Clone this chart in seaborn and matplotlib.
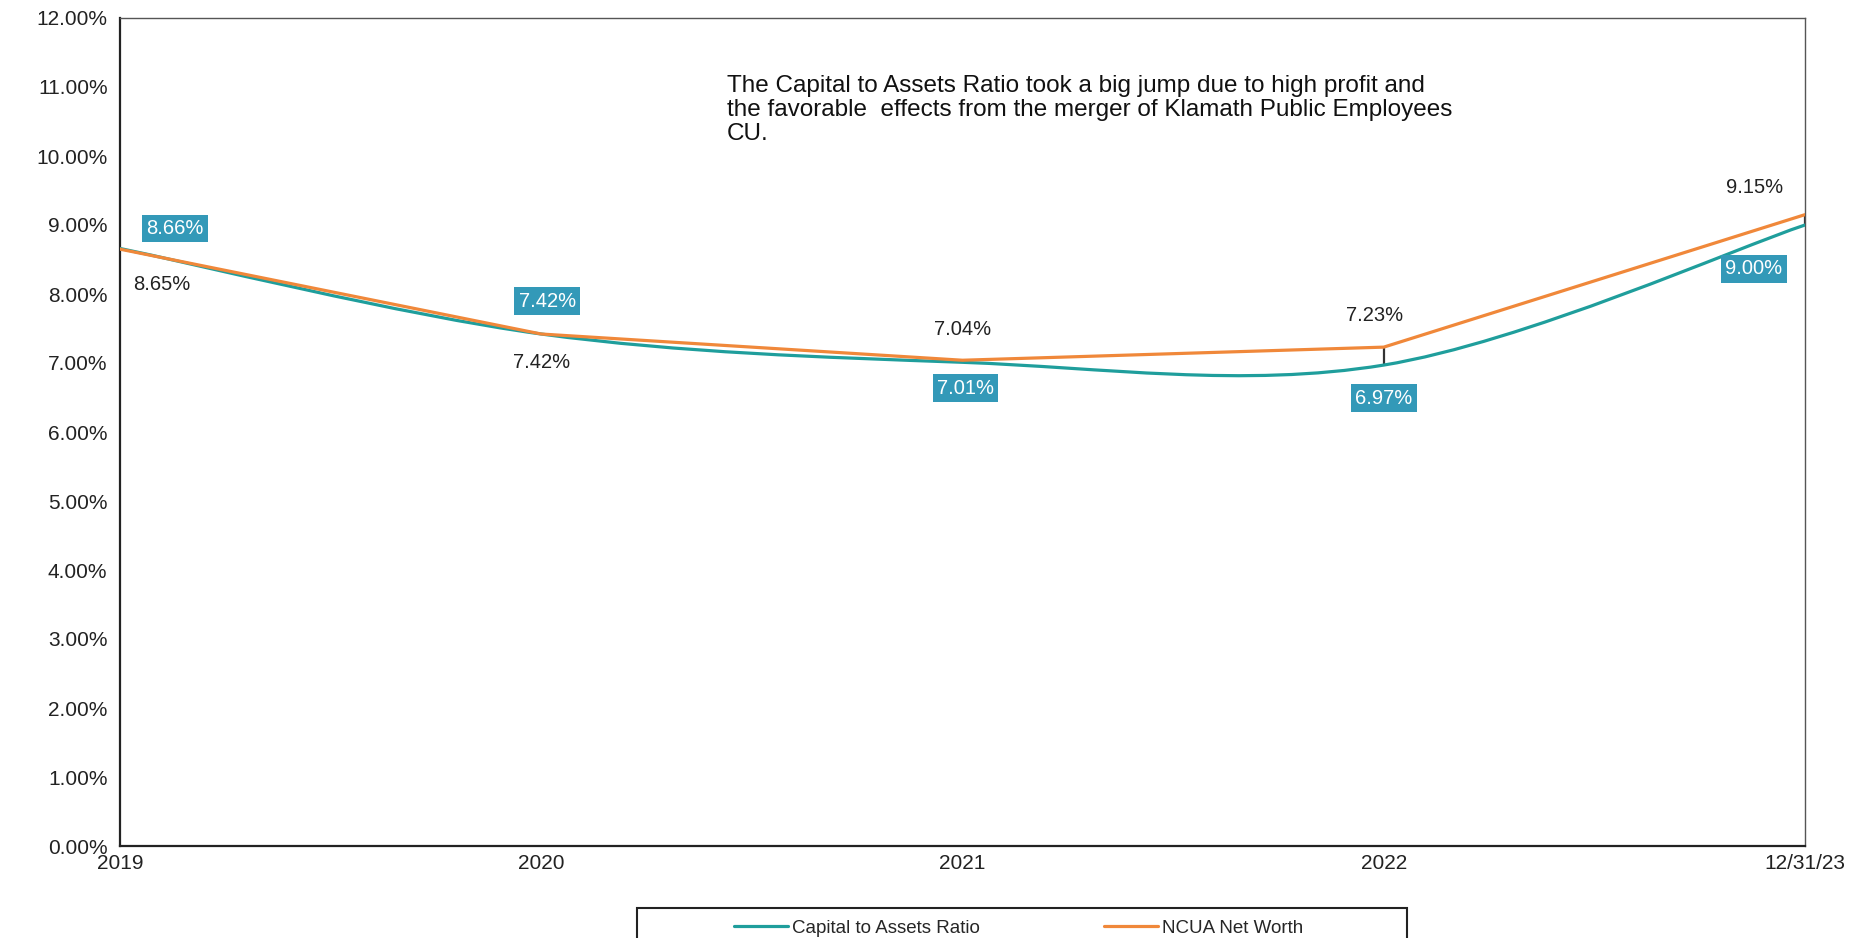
import matplotlib
matplotlib.use("Agg")
import matplotlib.pyplot as plt
import seaborn as sns
import numpy as np
import pandas as pd
from matplotlib.path import Path
from matplotlib.patches import PathPatch, Rectangle
from matplotlib.lines import Line2D
from matplotlib.ticker import FuncFormatter, MultipleLocator

# ---- data ----
periods = ["2019", "2020", "2021", "2022", "12/31/23"]
capital_to_assets = [8.66, 7.42, 7.01, 6.97, 9.00]
ncua_net_worth = [8.65, 7.42, 7.04, 7.23, 9.15]
series_names = ["Capital to Assets Ratio", "NCUA Net Worth"]
note = ("The Capital to Assets Ratio took a big jump due to high profit and\n"
        "the favorable  effects from the merger of Klamath Public Employees\n"
        "CU.")

TEAL = "#1f9e9c"
BOX = "#3399b8"
ORANGE = "#f0883a"

sns.set_theme(style="white")
plt.rcParams["font.family"] = ["Liberation Sans", "DejaVu Sans"]

fig = plt.figure(figsize=(18.57, 9.38), dpi=100)
ax = fig.add_axes([120 / 1857, (938 - 846) / 938, 1685 / 1857, 828 / 938])

x = np.arange(len(periods))
df = pd.DataFrame({"x": x, "y": ncua_net_worth})
# NCUA Net Worth: straight segments drawn by seaborn
sns.lineplot(data=df, x="x", y="y", color=ORANGE, linewidth=2.3,
             legend=False, ax=ax, zorder=4)


def smooth_path(xs, ys):
    xs = np.asarray(xs, float)
    ys = np.asarray(ys, float)
    n = len(xs)
    verts = [(xs[0], ys[0])]
    codes = [Path.MOVETO]
    for i in range(n - 1):
        i0 = max(i - 1, 0)
        i3 = min(i + 2, n - 1)
        c1 = (xs[i] + (xs[i + 1] - xs[i0]) / 6, ys[i] + (ys[i + 1] - ys[i0]) / 6)
        c2 = (xs[i + 1] - (xs[i3] - xs[i]) / 6, ys[i + 1] - (ys[i3] - ys[i]) / 6)
        verts += [c1, c2, (xs[i + 1], ys[i + 1])]
        codes += [Path.CURVE4] * 3
    return Path(verts, codes)


# high-low lines
ax.vlines(x, np.minimum(capital_to_assets, ncua_net_worth),
          np.maximum(capital_to_assets, ncua_net_worth),
          color="#333333", lw=1.6, zorder=2)

# Capital to Assets Ratio: smoothed line
p = PathPatch(smooth_path(x, capital_to_assets), facecolor="none", edgecolor=TEAL,
              lw=2.3, capstyle="round", joinstyle="round", zorder=3)
ax.add_patch(p)

ax.set_xlim(0, len(periods) - 1)
ax.set_ylim(0, 12)
ax.yaxis.set_major_locator(MultipleLocator(1))
ax.yaxis.set_major_formatter(FuncFormatter(lambda v, _: f"{v:.2f}%"))
ax.set_xticks(x)
ax.set_xticklabels(periods)
ax.set_xlabel("")
ax.set_ylabel("")
ax.tick_params(axis="both", direction="inout", length=10, width=1.2,
               color="#222222", labelsize=15, labelcolor="#222222")
ax.tick_params(axis="y", pad=4)
ax.tick_params(axis="x", pad=1)
ax.grid(False)
for side in ["left", "bottom"]:
    ax.spines[side].set_color("#222222")
    ax.spines[side].set_linewidth(1.6)
for side in ["top", "right"]:
    ax.spines[side].set_color("#555555")
    ax.spines[side].set_linewidth(1.0)

# data labels
teal_offsets = [(55, 20), (6, 33), (3, -26), (0, -33), (-51, -44)]
black_offsets = [(42, -35), (0, -28), (0, 31), (-9, 32), (-50, 27)]
for i, v in enumerate(capital_to_assets):
    ax.annotate(f"{v:.2f}%", (x[i], v), xytext=teal_offsets[i],
                textcoords="offset pixels", ha="center", va="center",
                fontsize=14.5, color="white",
                bbox=dict(boxstyle="square,pad=0.22", fc=BOX, ec="none"),
                zorder=5)
for i, v in enumerate(ncua_net_worth):
    ax.annotate(f"{v:.2f}%", (x[i], v), xytext=black_offsets[i],
                textcoords="offset pixels", ha="center", va="center",
                fontsize=14.5, color="#222222", zorder=5)

ax.text(1.44, 11.17, note, ha="left", va="top", fontsize=17.5,
        color="#111111", linespacing=1.1)

# legend with a box that runs off the bottom edge, as in the reference
fig.add_artist(Rectangle((637 / 1857, -0.05), 770 / 1857, 30 / 938 + 0.05,
                         transform=fig.transFigure, fill=False,
                         ec="#222222", lw=1.5, clip_on=False))
handles = [Line2D([], [], color=TEAL, lw=2.3), Line2D([], [], color=ORANGE, lw=2.3)]
leg = fig.legend(handles, series_names, ncol=2, loc="center left",
                 bbox_to_anchor=(734 / 1857, (938 - 928) / 938),
                 frameon=False, fontsize=13.5, handlelength=2.9,
                 handletextpad=0.2, columnspacing=6.6, borderpad=0,
                 borderaxespad=0)

fig.savefig("out.png", dpi=100)
